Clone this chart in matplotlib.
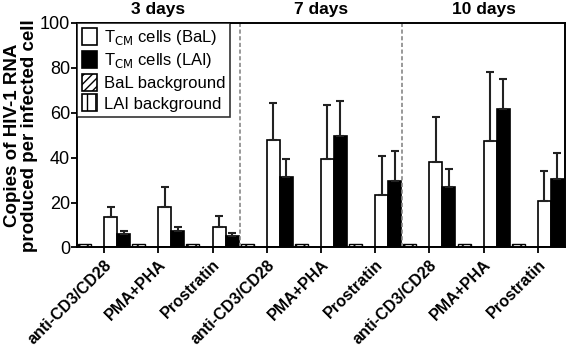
import numpy as np
import matplotlib
matplotlib.use("Agg")
import matplotlib.pyplot as plt
from matplotlib.patches import Patch

plt.rcParams['font.family'] = ['Liberation Sans', 'DejaVu Sans']
plt.rcParams['hatch.linewidth'] = 1.0

days = ['3 days', '7 days', '10 days']
treatments = ['anti-CD3/CD28', 'PMA+PHA', 'Prostratin'] * 3

bal_bg = [1.3] * 9
lai_bg = [0.3] * 9
bal = [13.6, 17.8, 8.9, 47.8, 39.6, 23.3, 38.1, 47.2, 20.5]
bal_err = [4.5, 8.9, 5.0, 16.6, 23.8, 17.3, 20.1, 31.0, 13.5]
lai = [5.9, 7.3, 5.2, 31.4, 49.6, 29.7, 27.0, 61.6, 30.3]
lai_err = [1.5, 1.9, 1.0, 8.2, 15.7, 13.3, 7.9, 13.6, 11.8]

x = np.arange(len(treatments))
w = 0.24

fig = plt.figure(figsize=(5.66, 3.47), dpi=100)
ax = fig.add_axes([0.136, 0.287, 0.862, 0.647])

ax.bar(x - 1.5 * w, bal_bg, w, color='white', edgecolor='black', hatch='////', lw=1.0)
ax.bar(x - 0.5 * w, lai_bg, w, color='white', edgecolor='black', hatch='||', lw=1.0)
ekw = dict(ecolor='#222222', elinewidth=1.5, capsize=3, capthick=1.5)
ax.bar(x + 0.5 * w, bal, w, color='white', edgecolor='black', lw=1.2,
       yerr=[np.zeros(9), bal_err], error_kw=ekw)
ax.bar(x + 1.5 * w, lai, w, color='black', edgecolor='black', lw=1.2,
       yerr=[np.zeros(9), lai_err], error_kw=ekw)

for xd in [2.5, 5.5]:
    ax.axvline(xd, color='#888888', ls=(0, (2.5, 1.5)), lw=1.2)

for i, d in enumerate(days):
    ax.text(3 * i + 1, 102.5, d, ha='center', va='bottom', fontsize=12.5, fontweight='bold')

ax.set_xlim(-0.5, 8.5)
ax.set_ylim(0, 100)
ax.set_yticks([0, 20, 40, 60, 80, 100])
ax.set_xticks(x)
ax.set_xticklabels(treatments, rotation=45, ha='right', rotation_mode='anchor',
                   fontsize=11.5, fontweight='bold')
ax.tick_params(axis='y', labelsize=13, width=1.3, length=4, pad=1)
ax.tick_params(axis='x', width=1.3, length=4, pad=3)
for s in ax.spines.values():
    s.set_linewidth(1.4)
ax.set_ylabel('Copies of HIV-1 RNA\nproduced per infected cell', fontsize=13.5,
              fontweight='bold', labelpad=1, linespacing=1.0)

handles = [
    Patch(facecolor='white', edgecolor='black', lw=1.2),
    Patch(facecolor='black', edgecolor='black', lw=1.2),
    Patch(facecolor='white', edgecolor='black', hatch='////', lw=1.2),
    Patch(facecolor='white', edgecolor='black', hatch='||', lw=1.2),
]
labels = [r'T$_{\mathrm{CM}}$ cells (BaL)', r'T$_{\mathrm{CM}}$ cells (LAI)',
          'BaL background', 'LAI background']
leg = ax.legend(handles, labels, loc='upper left', bbox_to_anchor=(0, 1.0),
                fontsize=12, frameon=True, fancybox=False, edgecolor='black',
                borderaxespad=0, handlelength=0.9, handleheight=1.2,
                handletextpad=0.4, labelspacing=0.22, borderpad=0.3)
leg.get_frame().set_linewidth(1.2)

fig.savefig('out.png', dpi=100)
